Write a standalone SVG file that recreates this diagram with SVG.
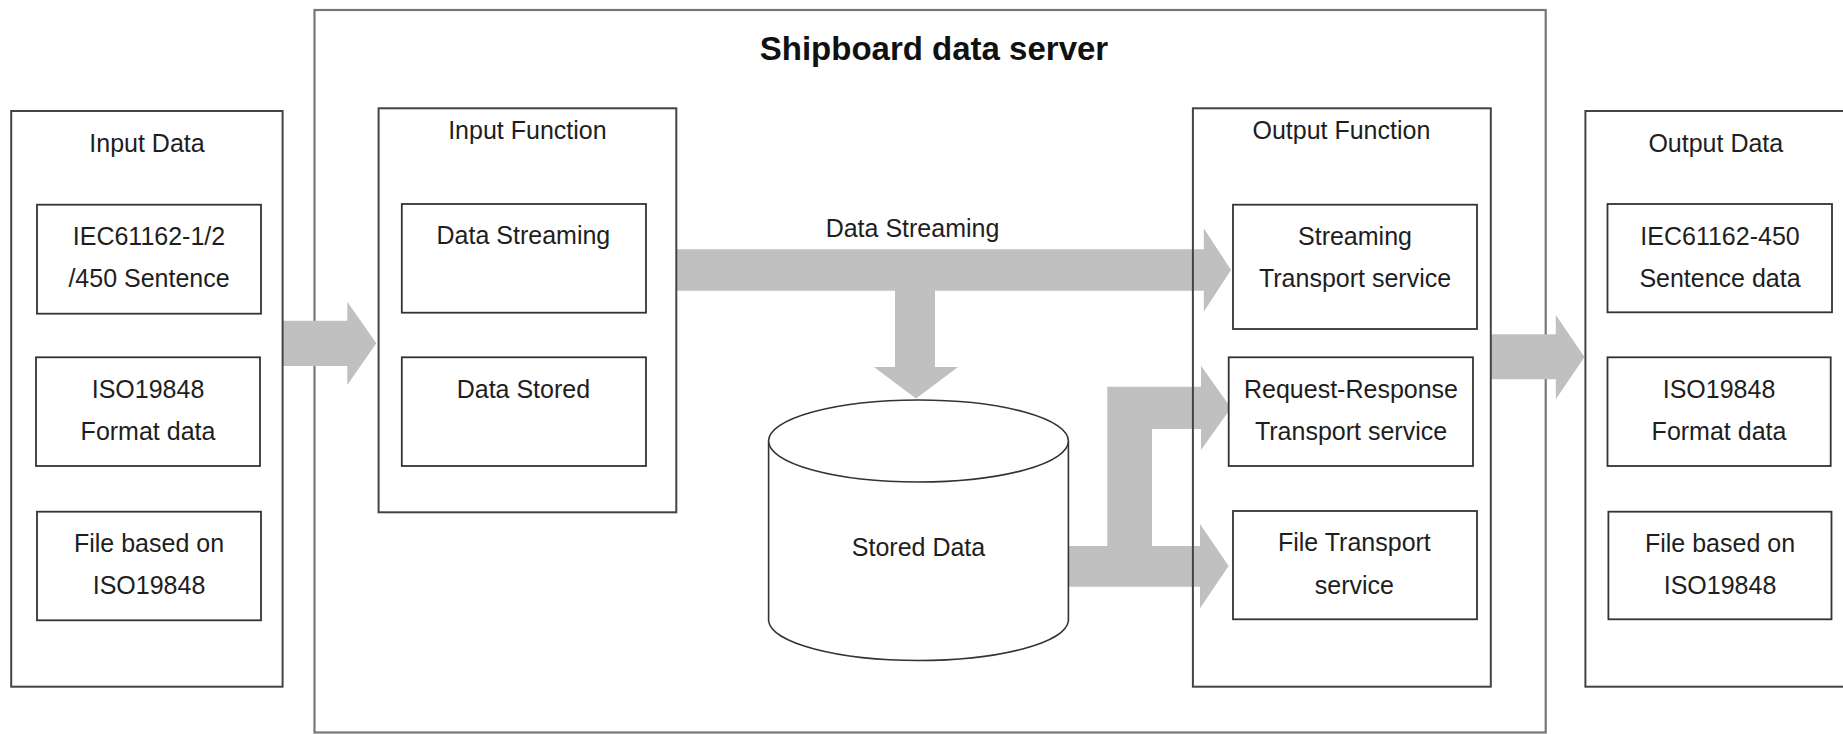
<svg xmlns="http://www.w3.org/2000/svg" width="1843" height="734" viewBox="0 0 1843 734">
<style>
  text { font-family: "Liberation Sans", Arial, sans-serif; font-size: 25px; fill: #1e1e1e; text-anchor: middle; }
  .title { font-size: 33px; font-weight: bold; fill: #111; }
  .server { fill: none; stroke: #777; stroke-width: 2.2; }
  .container { fill: none; stroke: #444; stroke-width: 2; }
  .box { fill: #fff; stroke: #333; stroke-width: 1.8; }
  .arrow { fill: #c0c0c0; stroke: none; }
  .db { fill: #fff; stroke: #333; stroke-width: 1.6; }
</style>
<rect width="1843" height="734" fill="#fff"/>
<g id="server">
  <rect class="server" x="314.5" y="10" width="1231.2" height="722.5"/>
  <text class="title" x="934" y="60">Shipboard data server</text>
</g>
<g id="connectors">
  <polygon class="arrow" points="282.6,320.7 347.3,320.7 347.3,301.7 376.3,343.3 347.3,385 347.3,366 282.6,366"/>
  <polygon class="arrow" points="676,249.3 1203.8,249.3 1203.8,228.3 1231,270 1203.8,311.7 1203.8,290.7 676,290.7"/>
  <polygon class="arrow" points="895,290 935,290 935,367 958,367 916,398.5 874,367 895,367"/>
  <path class="arrow" d="M1068,546 L1107.3,546 L1107.3,386.7 L1201,386.7 L1201,365.7 L1231,408 L1201,450 L1201,429 L1152,429 L1152,546 L1200,546 L1200,524 L1228.6,566 L1200,608.3 L1200,586.7 L1068,586.7 Z"/>
  <polygon class="arrow" points="1490.8,334.3 1555.8,334.3 1555.8,315 1584.5,357 1555.8,399.3 1555.8,379.3 1490.8,379.3"/>
  <text x="912.5" y="237.3">Data Streaming</text>
</g>
<g id="input-data">
  <rect class="container" x="11.2" y="111" width="271.4" height="575.7"/>
  <text x="147" y="151.7">Input Data</text>
  <g id="in-iec">
    <rect class="box" x="37" y="204.7" width="224" height="109"/>
    <text x="149" y="245">IEC61162-1/2</text>
    <text x="149" y="287">/450 Sentence</text>
  </g>
  <g id="in-iso">
    <rect class="box" x="36" y="357.3" width="224" height="108.7"/>
    <text x="148" y="397.7">ISO19848</text>
    <text x="148" y="440">Format data</text>
  </g>
  <g id="in-file">
    <rect class="box" x="37" y="511.7" width="224" height="108.6"/>
    <text x="149" y="551.7">File based on</text>
    <text x="149" y="594.3">ISO19848</text>
  </g>
</g>
<g id="input-function">
  <rect class="container" x="378.6" y="108.3" width="297.7" height="404"/>
  <text x="527.4" y="139.3">Input Function</text>
  <g id="data-streaming">
    <rect class="box" x="401.8" y="204" width="244.2" height="108.7"/>
    <text x="523.4" y="244.3">Data Streaming</text>
  </g>
  <g id="data-stored">
    <rect class="box" x="401.8" y="357.3" width="244.2" height="108.7"/>
    <text x="523.4" y="397.7">Data Stored</text>
  </g>
</g>
<g id="stored-data">
  <path class="db" d="M768.6,441 L768.6,621 A150,41 0 0 0 1068.4,621 L1068.4,441"/>
  <ellipse class="db" cx="918.5" cy="441" rx="149.9" ry="41"/>
  <text x="918.5" y="556">Stored Data</text>
</g>
<g id="output-function">
  <rect class="container" x="1192.9" y="108.3" width="297.9" height="578.4"/>
  <text x="1341.4" y="139.3">Output Function</text>
  <g id="streaming-transport">
    <rect class="box" x="1233" y="204.7" width="244" height="124.3"/>
    <text x="1355" y="245">Streaming</text>
    <text x="1355" y="287.3">Transport service</text>
  </g>
  <g id="request-response">
    <rect class="box" x="1228.7" y="357.3" width="244.3" height="108.7"/>
    <text x="1351" y="397.7">Request-Response</text>
    <text x="1351" y="440">Transport service</text>
  </g>
  <g id="file-transport">
    <rect class="box" x="1233" y="511" width="244" height="108.3"/>
    <text x="1354.4" y="551">File Transport</text>
    <text x="1354.4" y="594.3">service</text>
  </g>
</g>
<g id="output-data">
  <rect class="container" x="1585.4" y="111" width="261" height="575.7"/>
  <text x="1715.8" y="151.7">Output Data</text>
  <g id="out-iec">
    <rect class="box" x="1607.5" y="204" width="224.5" height="108.3"/>
    <text x="1720" y="245">IEC61162-450</text>
    <text x="1720" y="287.3">Sentence data</text>
  </g>
  <g id="out-iso">
    <rect class="box" x="1607.5" y="357.3" width="223.2" height="108.7"/>
    <text x="1719" y="397.7">ISO19848</text>
    <text x="1719" y="440">Format data</text>
  </g>
  <g id="out-file">
    <rect class="box" x="1608.4" y="511.7" width="223.1" height="107.6"/>
    <text x="1720" y="551.7">File based on</text>
    <text x="1720" y="594.3">ISO19848</text>
  </g>
</g>
</svg>
